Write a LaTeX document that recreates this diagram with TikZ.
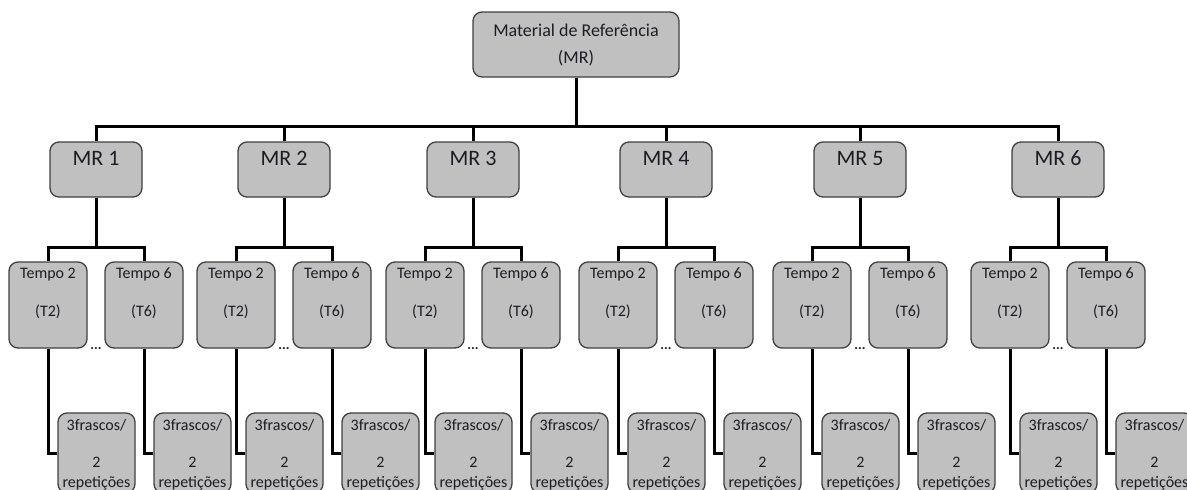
\documentclass[tikz,border=0pt]{standalone}
\usepackage{fontspec}
\setmainfont{Carlito}

\definecolor{cinzacaixa}{HTML}{C0C0C0}
\definecolor{cinzaborda}{HTML}{404040}
\definecolor{texto}{HTML}{1C1C24}

\tikzset{
  caixa/.style={draw=cinzaborda, fill=cinzacaixa, line width=1.3pt,
    rounded corners=9pt, inner sep=0pt, text=texto},
  raiz/.style={caixa, minimum width=206pt, text height=51pt, text depth=14pt,
    align=center, font=\fontsize{18}{22}\selectfont},
  amostra/.style={caixa, minimum width=92pt, text height=23pt, text depth=32pt,
    font=\fontsize{22}{26}\selectfont},
  tempo/.style={caixa, minimum width=78pt, text height=54pt, text depth=32pt,
    align=center, font=\fontsize{16}{19.5}\selectfont},
  frasco/.style={caixa, minimum width=77pt, text height=74pt, text depth=6pt,
    align=center, font=\fontsize{16}{19.5}\selectfont},
  reticencias/.style={anchor=base, inner sep=0pt, text=texto,
    font=\bfseries\fontsize{14}{16}\selectfont},
  liga/.style={line width=3pt, black}
}

\begin{document}
\begin{tikzpicture}[x=1pt,y=-1pt]
  \useasboundingbox (0,0) rectangle (1187,490);
  \clip (0,0) rectangle (1187,490);

  % Material de referencia
  \node[raiz] (mr) at (576,44.5) {Material de Referência\\[5pt](MR)};

  \foreach \i/\x in {1/96,2/284,3/473,4/666,5/860,6/1058}{
    % MR i
    \node[amostra] (m\i) at (\x,169.5) {MR \i};
    % tempos
    \node[tempo] (ta\i) at (\x-48,305) {Tempo 2\\[18.5pt](T2)};
    \node[tempo] (tb\i) at (\x+48,305) {Tempo 6\\[18.5pt](T6)};
    \node[reticencias] (d\i) at (\x,349) {...};
    % frascos
    \node[frasco] (fa\i) at (\x+0.5,453) {3frascos/\\[17.5pt]2\\repetições};
    \node[frasco] (fb\i) at (\x+96.5,453) {3frascos/\\[17.5pt]2\\repetições};
    % ligacoes
    \draw[liga] (mr.south) -- ++(0,49) -| (m\i.north);
    \draw[liga] (m\i.south) -- ++(0,50) -| (ta\i.north);
    \draw[liga] (m\i.south) -- ++(0,50) -| (tb\i.north);
    \draw[liga] (ta\i.south) |- (fa\i.west);
    \draw[liga] (tb\i.south) |- (fb\i.west);
  }
\end{tikzpicture}
\end{document}
